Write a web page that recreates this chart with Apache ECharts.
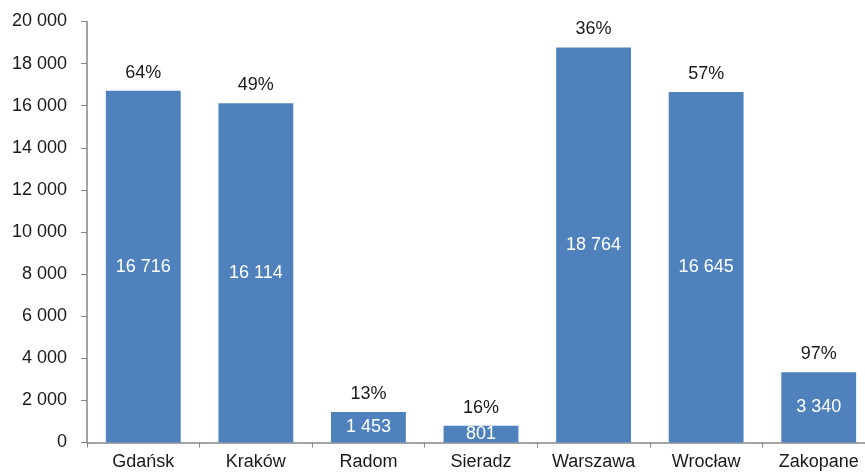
<!DOCTYPE html>
<html><head><meta charset="utf-8">
<script src="https://cdn.jsdelivr.net/npm/echarts@6/dist/echarts.min.js"></script>
<style>html,body{margin:0;padding:0;background:#fff}#c{width:865px;height:472px}</style>
</head><body><div id="c"></div>
<script>
const categories = ['Gdańsk','Kraków','Radom','Sieradz','Warszawa','Wrocław','Zakopane'];
const values = [16716, 16114, 1453, 801, 18764, 16645, 3340];
const percents = ['64%','49%','13%','16%','36%','57%','97%'];
const yTicks = {min: 0, max: 20000, interval: 2000};

function fmt(v){ return String(v).replace(/\B(?=(\d{3})+(?!\d))/g, ' '); }

const chart = echarts.init(document.getElementById('c'), null, {renderer:'canvas'});
const font = 'Liberation Sans, Arial, sans-serif';
chart.setOption({
  animation: false,
  grid: {left: 87, width: 788, top: 21.5, bottom: 29.5, containLabel: false, outerBoundsMode: 'none'},
  xAxis: {
    type: 'category', data: categories,
    axisLine: {lineStyle: {color: '#868686', width: 1.5}},
    axisTick: {show: true, length: 5, lineStyle: {color: '#868686'}},
    axisLabel: {color: '#1a1a1a', fontSize: 18, fontFamily: font, margin: 11}
  },
  yAxis: {
    type: 'value', min: yTicks.min, max: yTicks.max, interval: yTicks.interval,
    axisLine: {show: true, lineStyle: {color: '#868686', width: 1.5}},
    axisTick: {show: true, length: 6, lineStyle: {color: '#868686'}},
    splitLine: {show: false},
    axisLabel: {color: '#1a1a1a', fontSize: 18, fontFamily: font, margin: 20, formatter: fmt}
  },
  series: [
    {
      type: 'bar', data: values, barWidth: '66.5%',
      itemStyle: {color: '#4F81BD'},
      label: {show: true, position: 'inside', color: '#fff', fontSize: 18, fontFamily: font, formatter: p => fmt(p.value)}
    },
    {
      type: 'bar', data: values, barWidth: '66.5%', barGap: '-100%',
      itemStyle: {color: 'transparent'}, silent: true,
      label: {show: true, position: 'top', distance: 9, color: '#1a1a1a', fontSize: 18, fontFamily: font, formatter: p => percents[p.dataIndex]}
    }
  ]
});
</script></body></html>
